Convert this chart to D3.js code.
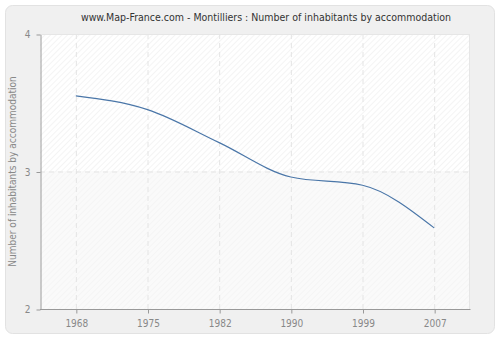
<!DOCTYPE html>
<html>
<head>
<meta charset="utf-8">
<script src="https://cdn.jsdelivr.net/npm/d3@7/dist/d3.min.js"></script>
<style>
  html, body { margin: 0; padding: 0; background: #fff; }
  svg { display: block; }
  text { font-family: "DejaVu Sans Condensed", "DejaVu Sans", Verdana, sans-serif; }
</style>
</head>
<body>
<svg id="chart" width="500" height="340"></svg>
<script>
// Census years and average number of inhabitants per dwelling
const years = ["1968", "1975", "1982", "1990", "1999", "2007"];
const inhabitants = [3.55, 3.45, 3.21, 2.96, 2.9, 2.59];
const yTicks = [2, 3, 4];
const title = "www.Map-France.com - Montilliers : Number of inhabitants by accommodation";
const yLabel = "Number of inhabitants by accommodation";

const svg = d3.select("#chart");
const plot = { left: 40, right: 470, top: 34, bottom: 309 };
const FONT = "'DejaVu Sans Condensed', 'DejaVu Sans', Verdana, sans-serif";

// Diagonal hatch patterns for the plot background bands
const defs = svg.append("defs");
function hatch(id, bg, stroke) {
  const p = defs.append("pattern")
    .attr("id", id)
    .attr("patternUnits", "userSpaceOnUse")
    .attr("width", 4).attr("height", 4)
    .attr("patternTransform", "rotate(45)");
  p.append("rect").attr("width", 4).attr("height", 4).attr("fill", bg);
  p.append("line").attr("x1", 0).attr("y1", 0).attr("x2", 0).attr("y2", 4)
    .attr("stroke", stroke).attr("stroke-width", 1.2);
}
hatch("hatchA", "#ffffff", "#eeeeee");
hatch("hatchB", "#fafafa", "#f2f2f2");

// Outer panel
svg.append("rect")
  .attr("x", 5.5).attr("y", 5.5).attr("width", 489).attr("height", 328)
  .attr("rx", 7).attr("ry", 7)
  .attr("fill", "#f0f0f0").attr("stroke", "#e2e2e2");

const x = d3.scalePoint().domain(years).range([plot.left, plot.right]).padding(0.5);
const y = d3.scaleLinear().domain([2, 4]).range([plot.bottom, plot.top]);

// Plot background bands between y ticks
const bands = d3.pairs(yTicks);
svg.selectAll("rect.band").data(bands).join("rect")
  .attr("class", "band")
  .attr("x", plot.left).attr("width", plot.right - plot.left)
  .attr("y", d => y(d[1])).attr("height", d => y(d[0]) - y(d[1]))
  .attr("fill", (d, i) => i % 2 === 0 ? "url(#hatchB)" : "url(#hatchA)");

// Dashed grid lines
const grid = svg.append("g").attr("stroke", "#e4e4e4").attr("stroke-dasharray", "5,4");
grid.selectAll("line.v").data(years).join("line")
  .attr("x1", d => x(d) + 0.5).attr("x2", d => x(d) + 0.5)
  .attr("y1", plot.top).attr("y2", plot.bottom);
grid.selectAll("line.h").data(yTicks.slice(1, -1)).join("line")
  .attr("x1", plot.left).attr("x2", plot.right)
  .attr("y1", d => y(d) + 0.5).attr("y2", d => y(d) + 0.5);
// plot frame (top and right)
svg.append("line")
  .attr("x1", plot.left).attr("x2", plot.right)
  .attr("y1", plot.top + 0.5).attr("y2", plot.top + 0.5)
  .attr("stroke", "#e6e6e6");
svg.append("line")
  .attr("x1", plot.right - 0.5).attr("x2", plot.right - 0.5)
  .attr("y1", plot.top).attr("y2", plot.bottom)
  .attr("stroke", "#e6e6e6");

// Axes
const xAxis = svg.append("g")
  .attr("transform", `translate(0.5,${plot.bottom + 0.5})`)
  .call(d3.axisBottom(x).tickSize(4).tickPadding(6).tickSizeOuter(0));
const yAxis = svg.append("g")
  .attr("transform", `translate(${plot.left + 0.5},0.5)`)
  .call(d3.axisLeft(y).tickValues(yTicks).tickFormat(d3.format("d")).tickSize(4).tickPadding(6).tickSizeOuter(0));
[xAxis, yAxis].forEach(a => {
  a.select(".domain").attr("stroke", "#999");
  a.selectAll(".tick line").attr("stroke", "#999");
  a.selectAll(".tick text").attr("fill", "#888").attr("font-size", 10)
    .attr("font-family", FONT);
});
xAxis.select(".domain").attr("d", `M${plot.left - 0.5},0H${plot.right}`);

// Data line
const line = d3.line()
  .x((d, i) => x(years[i]))
  .y(d => y(d))
  .curve(d3.curveMonotoneX);
svg.append("path")
  .datum(inhabitants)
  .attr("d", line)
  .attr("fill", "none")
  .attr("stroke", "#4a76a8")
  .attr("stroke-width", 1.2);

// Title
svg.append("text")
  .attr("x", 266).attr("y", 21)
  .attr("text-anchor", "middle")
  .attr("font-size", 10.5).attr("fill", "#333")
  .text(title);

// Y axis label
svg.append("text")
  .attr("transform", `translate(16,${(plot.top + plot.bottom) / 2}) rotate(-90)`)
  .attr("text-anchor", "middle")
  .attr("font-size", 10).attr("fill", "#888")
  .text(yLabel);
</script>
</body>
</html>
